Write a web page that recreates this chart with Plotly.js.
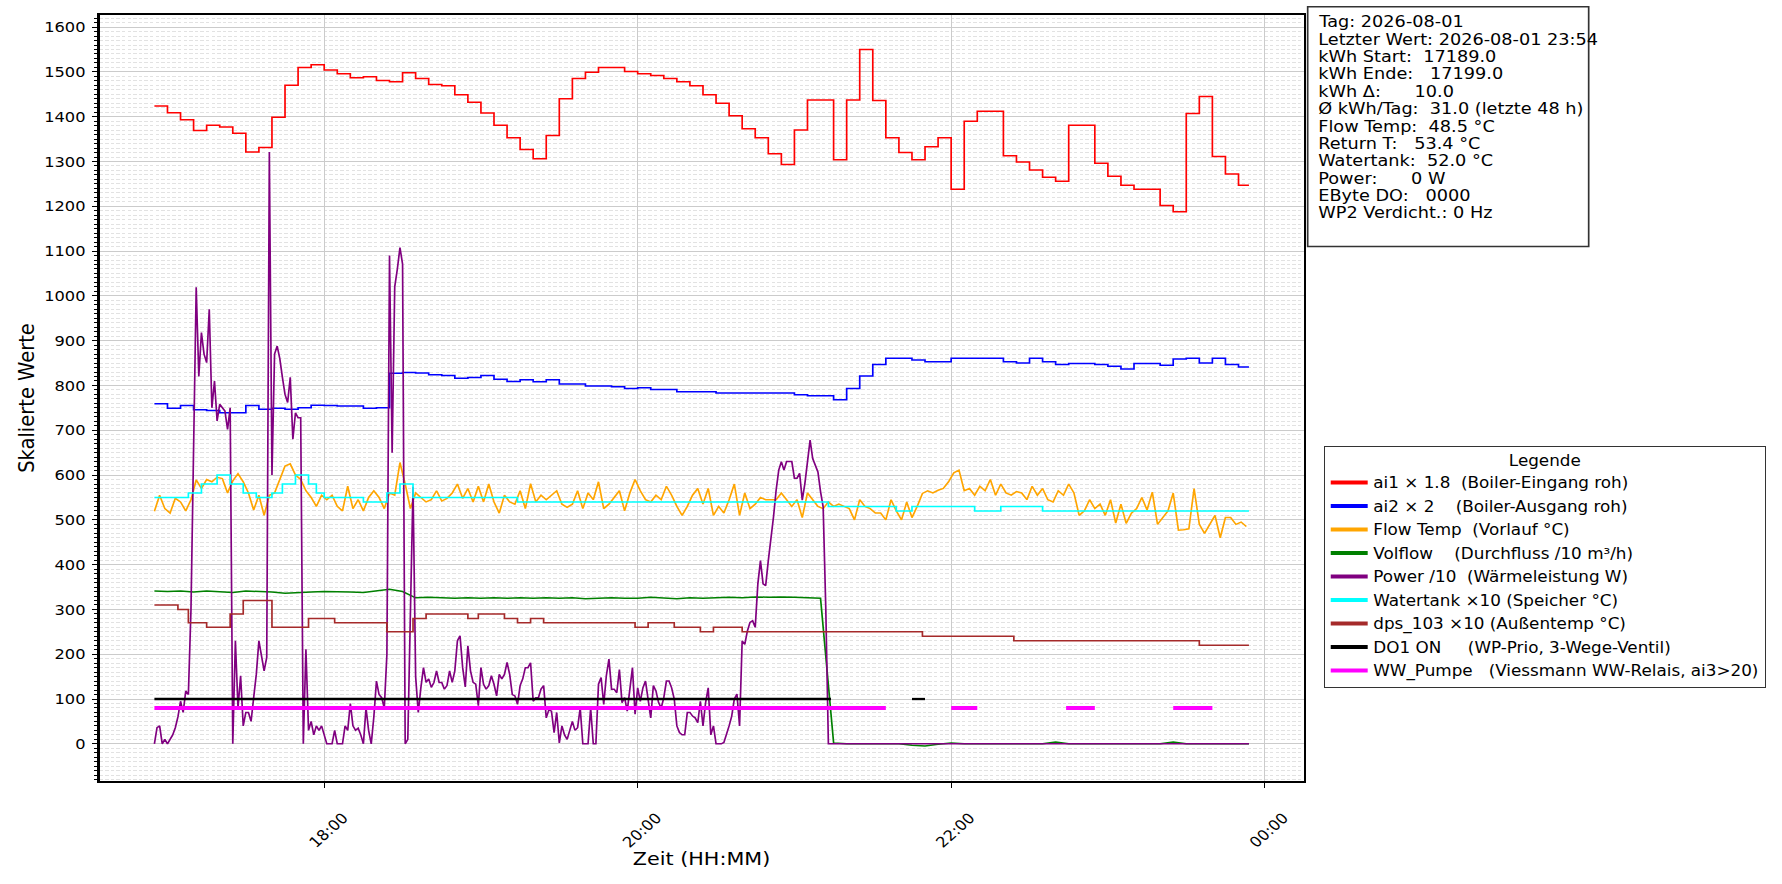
<!DOCTYPE html>
<html>
<head>
<meta charset="utf-8">
<script src="https://cdn.plot.ly/plotly-3.0.1.min.js"></script>
<style>
  body { margin: 0; background: white; overflow: hidden; }
  #chart { transform-origin: 0 0; }
</style>
</head>
<body>
<div id="chart"></div>
<script>
// Tag und Zeitraster der Messwerte
const DAY = '2026-08-01';
const START = '16:55';
const LAST = '23:54';

// 5-Minuten-Werte ab 16:55 (letzter Wert = 23:54)
const ai1 = [
  1424, 1409, 1393, 1369, 1381, 1377, 1363, 1321, 1331, 1399,
  1470, 1510, 1516, 1504, 1496, 1487, 1489, 1481, 1478, 1498,
  1485, 1472, 1469, 1449, 1432, 1408, 1381, 1353, 1327, 1306,
  1358, 1440, 1485, 1499, 1510, 1510, 1501, 1496, 1492, 1485,
  1478, 1469, 1449, 1430, 1402, 1373, 1353, 1317, 1293, 1370,
  1437, 1437, 1304, 1437, 1550, 1436, 1353, 1320, 1304, 1333,
  1353, 1238, 1390, 1412, 1412, 1313, 1299, 1281, 1265, 1256,
  1381, 1381, 1296, 1267, 1247, 1238, 1238, 1202, 1188, 1407,
  1445, 1311, 1272, 1247, 1247
];
const ai2 = [
  759, 749, 755, 746, 744, 739, 739, 755, 747, 749,
  747, 750, 756, 755, 754, 754, 749, 750, 827, 829,
  828, 824, 822, 816, 818, 822, 814, 809, 813, 808,
  813, 803, 803, 799, 799, 797, 793, 795, 791, 791,
  786, 786, 786, 783, 783, 783, 783, 783, 783, 779,
  777, 777, 768, 793, 821, 847, 861, 861, 857, 853,
  853, 861, 861, 861, 861, 853, 850, 861, 853, 847,
  849, 849, 847, 843, 837, 849, 849, 845, 859, 861,
  850, 861, 847, 841, 841
];
const volflow = [
  341, 340, 341, 339, 341, 340, 338, 341, 340, 339,
  336, 338, 339, 340, 340, 339, 338, 342, 345, 340,
  326, 327, 326, 325, 326, 325, 326, 325, 326, 325,
  326, 325, 326, 324, 325, 326, 325, 325, 327, 325,
  324, 326, 325, 326, 327, 326, 328, 327, 328, 327,
  326, 325, 2, 0, 0, 0, 0, 0, -3, -5,
  -1, 2, 0, 0, 0, 0, 0, 0, 0, 4,
  0, 0, 0, 0, 0, 0, 0, 0, 4, 0,
  0, 0, 0, 0, 0
];

// 2-Minuten-Werte ab 16:55
const flowTemp = [
  519, 555, 525, 515, 548, 540, 520, 545, 589, 570,
  590, 585, 595, 592, 560, 587, 603, 585, 560, 522,
  555, 510, 555, 560, 590, 620, 625, 600, 590, 565,
  550, 530, 555, 545, 555, 530, 520, 575, 525, 545,
  520, 550, 565, 550, 525, 560, 555, 628, 580, 525,
  560, 550, 540, 545, 565, 542, 548, 560, 580, 548,
  570, 540, 575, 540, 580, 540, 515, 555, 540, 535,
  565, 525,
  581, 540, 555, 545, 555, 565, 535, 528, 535, 565,
  525, 560, 545, 585, 525, 535, 550, 565, 520, 560,
  590, 565, 545, 540, 555, 545, 575, 555, 530, 510,
  530, 555, 570, 535, 570, 510, 530, 515, 545, 580,
  510, 560, 525, 535, 550, 545, 545, 545, 560, 545,
  530, 545, 505, 560, 545, 530, 525, 540, 530, 535,
  530, 525, 500, 545, 530, 525, 515, 515, 500, 545,
  520, 500, 540, 505, 530,
  559, 565, 560, 566, 570, 585, 605, 611, 565, 570,
  555, 575, 565, 590, 555, 580, 560, 555, 563, 560,
  545, 575, 555, 570, 545, 540, 565, 555, 580, 560,
  510, 520, 545, 525, 535, 510, 545, 493, 535, 492,
  515, 525, 550, 522, 562, 490, 505, 520, 560, 477,
  478, 480, 570, 490, 470, 490, 510, 460, 505, 505,
  490, 495, 485
];

// 1-Minuten-Werte ab 16:55 (Power /10)
const power = [
  0, 36, 40, 0, 10, 0, 10, 20, 36, 60,
  95, 70, 118, 110, 300, 650, 1019, 820, 918, 870,
  851, 970, 750, 810, 721, 758, 750, 743, 702, 750,
  0, 230, 80, 152, 40, 70, 70, 50, 103, 155,
  230, 193, 163, 193, 1321, 600, 870, 888, 860, 818,
  780, 762, 818, 680, 739, 728, 728, 0, 211, 30,
  50, 20, 40, 30, 40, 20, 0, 0, 0, 30,
  0, 0, 0, 40, 30, 90, 40, 30, 35, 20,
  0, 80, 30, 0, 60, 140, 110, 103, 80, 200,
  1090, 650, 1020, 1060, 1108, 1071, 0, 10, 300, 574,
  150, 70, 125, 170, 137, 145, 126, 137, 163, 137,
  137, 122, 130, 163, 137, 163, 230, 241, 170, 127,
  219, 163, 137, 133, 85, 170, 133, 122, 130, 152,
  133, 107, 155, 145, 155, 182, 155, 110, 107, 88,
  130, 145, 170, 170, 181, 95, 103, 103, 122, 130,
  58, 76, 73, 25, 70, 2, 40, 20, 10, 30,
  50, 30, 36, 80, 0, 0, 0, 80, 0, 0,
  133, 148, 88, 152, 189, 122, 122, 114, 166, 92,
  103, 73, 122, 170, 66, 125, 95, 125, 140, 103,
  58, 130, 118, 92, 80, 103, 140, 140, 125, 100,
  40, 25, 20, 20, 70, 70, 62, 58, 47, 95,
  40, 92, 125, 20, 40, 0, 0, 0, 3, 20,
  40, 62, 100, 111, 40, 230, 222, 252, 271, 275,
  260, 357, 409, 357, 353, 409, 454, 507, 566, 611,
  630, 611, 630, 630, 630, 593, 593, 604, 544, 581,
  626, 678, 637, 622, 607, 563, 529, 304, 0,
  0, 0, 0, 0, 0, 0, 0, 0, 0, 0, 0, 0, 0, 0, 0, 0, 0, 0, 0, 0,
  0, 0, 0, 0, 0, 0, 0, 0, 0, 0, 0, 0, 0, 0, 0, 0, 0, 0, 0, 0,
  0, 0, 0, 0, 0, 0, 0, 0, 0, 0, 0, 0, 0, 0, 0, 0, 0, 0, 0, 0,
  0, 0, 0, 0, 0, 0, 0, 0, 0, 0, 0, 0, 0, 0, 0, 0, 0, 0, 0, 0,
  0, 0, 0, 0, 0, 0, 0, 0, 0, 0, 0, 0, 0, 0, 0, 0, 0, 0, 0, 0,
  0, 0, 0, 0, 0, 0, 0, 0, 0, 0, 0, 0, 0, 0, 0, 0, 0, 0, 0, 0,
  0, 0, 0, 0, 0, 0, 0, 0, 0, 0, 0, 0, 0, 0, 0, 0, 0, 0, 0, 0,
  0, 0, 0, 0, 0, 0, 0, 0, 0, 0, 0, 0, 0, 0, 0, 0, 0, 0, 0, 0,
  0
];

// Stufenwerte: Zeitpunkt der Änderung und neuer Wert
const tankTimes = ['16:55', '17:08', '17:13', '17:19', '17:24', '17:29', '17:34', '17:40', '17:44', '17:49',
  '17:54', '17:57', '18:00', '18:15', '18:24', '18:29', '18:34', '19:14', '21:13', '21:39',
  '21:45', '22:09', '22:19', '22:35', '23:54'];
const tankVals = [550, 560, 580, 600, 580, 560, 550, 560, 580, 600,
  580, 560, 550, 540, 560, 580, 550, 540, 530, 520,
  530, 520, 530, 520, 520];

const outTimes = ['16:55', '17:04', '17:08', '17:15', '17:24', '17:29', '17:40', '17:54', '18:04', '18:24',
  '18:34', '18:39', '18:55', '18:59', '19:09', '19:14', '19:19', '19:24', '19:59', '20:04',
  '20:14', '20:24', '20:29', '20:40', '21:49', '22:24', '23:35', '23:54'];
const outVals = [310, 300, 270, 260, 290, 320, 260, 280, 270, 250,
  280, 290, 280, 290, 280, 270, 280, 270, 260, 270,
  260, 250, 260, 250, 240, 230, 220, 220];

// Schaltzustände (ein von - bis)
const DO1_LEVEL = 100;
const do1On = [['16:55', '21:14'], ['21:45', '21:50']];
const WW_LEVEL = 80;
const wwOn = [['16:55', '21:35'], ['22:00', '22:10'], ['22:44', '22:55'], ['23:25', '23:40']];

const seriesNames = [
  'ai1 × 1.8  (Boiler-Eingang roh)',
  'ai2 × 2    (Boiler-Ausgang roh)',
  'Flow Temp  (Vorlauf °C)',
  'Volflow    (Durchfluss /10 m³/h)',
  'Power /10  (Wärmeleistung W)',
  'Watertank ×10 (Speicher °C)',
  'dps_103 ×10 (Außentemp °C)',
  'DO1 ON     (WP-Prio, 3-Wege-Ventil)',
  'WW_Pumpe   (Viessmann WW-Relais, ai3>20)'
];
const seriesColors = ['#ff0000', '#0000ff', '#ffa500', '#008000', '#800080',
  '#00ffff', '#a52a2a', '#000000', '#ff00ff'];

const infoLines = [
  'Tag: 2026-08-01',
  'Letzter Wert: 2026-08-01 23:54',
  'kWh Start:  17189.0',
  'kWh Ende:   17199.0',
  'kWh Δ:      10.0',
  'Ø kWh/Tag:  31.0 (letzte 48 h)',
  'Flow Temp:  48.5 °C',
  'Return T:   53.4 °C',
  'Watertank:  52.0 °C',
  'Power:      0 W',
  'EByte DO:   0000',
  'WP2 Verdicht.: 0 Hz'
];

// --- helpers ---
function toMin(hm) {
  const p = hm.split(':');
  return parseInt(p[0], 10) * 60 + parseInt(p[1], 10);
}
function stamp(min) {
  const h = Math.floor(min / 60), m = min % 60;
  return DAY + ' ' + String(h).padStart(2, '0') + ':' + String(m).padStart(2, '0');
}
function at(hm) { return stamp(toMin(hm)); }
function grid(start, step, n) {
  const out = [];
  for (let i = 0; i < n; i++) out.push(stamp(toMin(start) + i * step));
  return out;
}
function segs(list, level) {
  const x = [], y = [];
  list.forEach(function (s) {
    x.push(at(s[0]), at(s[1]), null);
    y.push(level, level, null);
  });
  return { x: x, y: y };
}
function nb(s) { return s.replace(/ {2,}/g, m => '\u00a0'.repeat(m.length)); }

const t5 = grid(START, 5, ai1.length - 1).concat([at(LAST)]);
const t2 = grid(START, 2, flowTemp.length);
const t1 = grid(START, 1, power.length);
const do1 = segs(do1On, DO1_LEVEL);
const ww = segs(wwOn, WW_LEVEL);

function line(x, y, i, width, shape) {
  return {
    x: x, y: y, type: 'scatter', mode: 'lines', showlegend: false, hoverinfo: 'skip',
    line: { color: seriesColors[i], width: width, shape: shape || 'linear' },
    connectgaps: false
  };
}

var data = [];
// legend entries (thicker lines), one group each so the gap can be set
seriesNames.forEach(function (n, i) {
  data.push({
    x: [null], y: [null], type: 'scatter', mode: 'lines', name: nb(n),
    legendgroup: 'g' + i,
    line: { color: seriesColors[i], width: 4 }, hoverinfo: 'skip'
  });
});
data.push(line(t5, ai1, 0, 1.5, 'hv'));
data.push(line(t5, ai2, 1, 1.5, 'hv'));
data.push(line(t2, flowTemp, 2, 1.5));
data.push(line(t5, volflow, 3, 1.5));
data.push(line(t1, power, 4, 1.5));
data.push(line(tankTimes.map(at), tankVals, 5, 1.5, 'hv'));
data.push(line(outTimes.map(at), outVals, 6, 1.5, 'hv'));
data.push(line(do1.x, do1.y, 7, 2.3));
data.push(line(ww.x, ww.y, 8, 4));

// the reference picture is stretched in x: draw narrower, then scale
const SX = 1.12;
const W = 1782, H = 884;
const ML = 100, MR = 478, MT = 15, MB = 103;
const plotW = W - ML - MR, plotH = H - MT - MB;
const px = X => (X - ML) / plotW;      // page x  -> paper x
const py = Y => (H - MB - Y) / plotH;  // page y  -> paper y

const infoStep = 17.4;
var annotations = infoLines.map(function (t, i) {
  return {
    xref: 'paper', yref: 'paper', x: px(1316), y: py(21.6 + i * infoStep),
    xanchor: 'left', yanchor: 'middle', align: 'left', showarrow: false,
    text: nb(t), font: { size: 15.8 }
  };
});
annotations.push({
  xref: 'paper', yref: 'paper', x: 0.5, y: py(858),
  xanchor: 'center', yanchor: 'middle', showarrow: false,
  text: 'Zeit (HH:MM)', font: { size: 18.5 }
});

var layout = {
  width: Math.round(W / SX),
  height: H,
  margin: { l: ML / SX, r: MR / SX, t: MT, b: MB },
  paper_bgcolor: 'white',
  plot_bgcolor: 'white',
  font: { family: 'DejaVu Sans', size: 15, color: 'black' },
  showlegend: true,
  xaxis: {
    type: 'date',
    range: ['2026-08-01 16:34:03', '2026-08-02 00:14:57'],
    tick0: '2026-08-01 18:00',
    dtick: 7200000,
    tickformat: '%H:%M',
    tickangle: -45,
    ticklabelshift: 17,
    ticklabelstandoff: 16,
    ticks: 'outside', ticklen: 5, tickwidth: 1.3, tickcolor: 'black',
    showgrid: true, gridcolor: '#cbcbcb', gridwidth: 1.3,
    showline: true, linecolor: 'black', linewidth: 1.5, mirror: true,
    zeroline: false,
    tickfont: { size: 14.5 }
  },
  yaxis: {
    range: [-83, 1627],
    tick0: 0,
    dtick: 100,
    ticks: 'outside', ticklen: 5, tickwidth: 1.3, tickcolor: 'black',
    ticklabelstandoff: 3,
    showgrid: true, gridcolor: '#cbcbcb', gridwidth: 1.3,
    minor: {
      dtick: 10, ticks: 'outside', ticklen: 3, tickwidth: 1, tickcolor: 'black',
      showgrid: true, gridcolor: '#e2e2e2', gridwidth: 0.8, griddash: '3px,2px'
    },
    showline: true, linecolor: 'black', linewidth: 1.5, mirror: true,
    zeroline: false,
    tickfont: { size: 14.5 },
    title: { text: 'Skalierte Werte', font: { size: 19.5 }, standoff: 3 }
  },
  legend: {
    x: px(1324), y: py(445.5), xanchor: 'left', yanchor: 'top',
    bgcolor: 'white', bordercolor: '#333333', borderwidth: 1.3,
    font: { size: 15 },
    itemwidth: 33,
    tracegroupgap: 1,
    title: { text: 'Legende', side: 'top center', font: { size: 15 } }
  },
  shapes: [{
    type: 'rect', xref: 'paper', yref: 'paper',
    x0: px(1308), x1: px(1589), y0: py(246.6), y1: py(6.8),
    line: { color: '#333333', width: 1.5 }, fillcolor: 'rgba(0,0,0,0)', layer: 'above'
  }],
  annotations: annotations
};

const el = document.getElementById('chart');
el.style.transform = 'scaleX(' + SX + ')';
Plotly.newPlot(el, data, layout, { displayModeBar: false });
</script>
</body>
</html>
